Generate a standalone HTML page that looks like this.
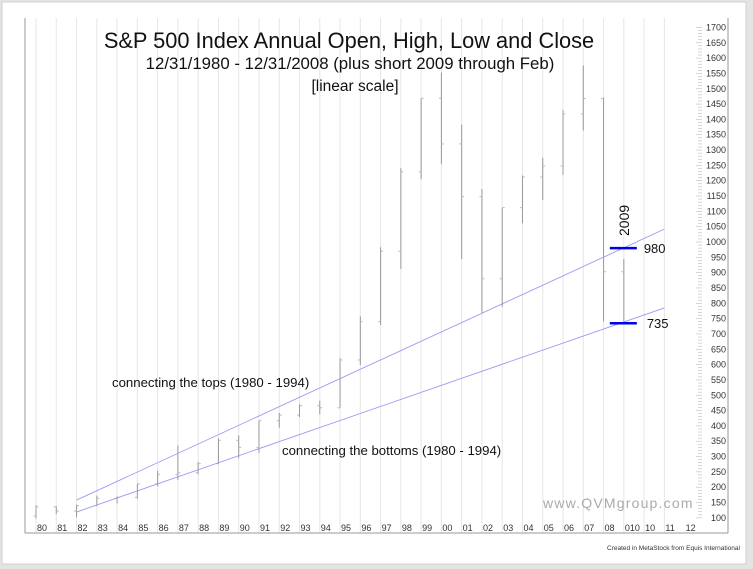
<!DOCTYPE html>
<html><head><meta charset="utf-8"><style>
html,body{margin:0;padding:0;background:#e4e4e4;}
svg{display:block;}
text{font-family:"Liberation Sans",sans-serif;}
</style></head><body>
<svg id="chart" width="753" height="569" xmlns="http://www.w3.org/2000/svg">
<rect x="2" y="2" width="744" height="562" fill="#fff" stroke="#d0d0d0"/>
<g id="grid"></g>
<g id="bars"></g>
<g id="trend"></g>
<line x1="25" y1="18" x2="25" y2="533" stroke="#999"/>
<line x1="25" y1="533" x2="728" y2="533" stroke="#999"/>
<line x1="728" y1="18" x2="728" y2="533" stroke="#999"/>
<g id="yaxis"></g>
<g id="xaxis"></g>
<text x="349" y="48" font-size="21.8" text-anchor="middle" fill="#111">S&amp;P 500 Index Annual Open, High, Low and Close</text>
<text x="350" y="69" font-size="16.8" text-anchor="middle" fill="#111">12/31/1980 - 12/31/2008 (plus short 2009 through Feb)</text>
<text x="355" y="91" font-size="15.5" text-anchor="middle" fill="#111">[linear scale]</text>
<text x="112" y="387" font-size="13.2" fill="#111">connecting the tops (1980 - 1994)</text>
<text x="282" y="455" font-size="13.2" fill="#111">connecting the bottoms (1980 - 1994)</text>
<text x="543" y="508" font-size="14" fill="#aaa" letter-spacing="1.2">www.QVMgroup.com</text>
<text x="607" y="550" font-size="6.5" fill="#333">Created in MetaStock from Equis International</text>
<g id="marks"></g>
</svg>
<script>
const years = ["80","81","82","83","84","85","86","87","88","89","90","91","92","93","94","95","96","97","98","99","00","01","02","03","04","05","06","07","08","010","10","11","12"];
const opens = [106,136,122,140,164,167,211,242,247,277,353,330,417,435,466,459,615,740,970,1229,1469,1320,1148,880,1112,1212,1248,1418,1468,903];
const highs = [141,138,143,172,170,212,254,336,283,359,369,418,442,471,482,621,757,983,1241,1469,1553,1383,1173,1112,1217,1275,1431,1576,1471,944];
const lows  = [98,112,102,138,147,163,203,224,242,275,295,312,394,429,438,459,598,729,912,1205,1254,944,768,789,1061,1137,1219,1364,741,735];
const closes= [136,122,140,164,167,211,242,247,277,353,330,417,435,466,459,615,740,970,1229,1469,1320,1148,880,1112,1212,1248,1418,1468,903,735];
const yTicks = [100,150,200,250,300,350,400,450,500,550,600,650,700,750,800,850,900,950,1000,1050,1100,1150,1200,1250,1300,1350,1400,1450,1500,1550,1600,1650,1700];
const topLine = [[2,158],[31,1042]];
const bottomLine = [[2,119],[31,785]];
const levels = [980,735];

const NS="http://www.w3.org/2000/svg";
const y = v => 242 - (v-1000)*0.3065;
const x = i => 36 + 20.27*i;
function mk(tag, attrs, parent){const e=document.createElementNS(NS,tag);for(const k in attrs)e.setAttribute(k,attrs[k]);document.getElementById(parent).appendChild(e);return e;}

for(let i=0;i<=31;i++){
  const g=mk('line',{x1:x(i),y1:18,x2:x(i),y2:533,stroke:'#e6e6e6'},'grid');
  
  
}
years.forEach((lab,i)=>{
  const t=mk('text',{x:x(i)+1,y:531,'font-size':9,fill:'#333'},'xaxis');
  t.textContent=lab;
  
  
});
for(let v=100;v<=1700;v+=10){
  const major=v%50===0;
  const l=mk('line',{x1:major?696:698,y1:y(v),x2:702,y2:y(v),stroke:'#bbb','stroke-width':0.6},'yaxis');
  
  
}
yTicks.forEach(v=>{
  const t=mk('text',{x:726,y:y(v)+3,'font-size':9,fill:'#333','text-anchor':'end'},'yaxis');
  t.textContent=v;
  
  
});
opens.forEach((o,i)=>{
  const xi=x(i);
  const g=mk('g',{stroke:'#999','stroke-width':1},'bars');
  
  
  const v=mk('line',{x1:xi,y1:y(highs[i]),x2:xi,y2:y(lows[i])},'bars');g.appendChild(v);
  const a=mk('line',{x1:xi-2.5,y1:y(o),x2:xi,y2:y(o),stroke:'#bbb'},'bars');g.appendChild(a);
  const b=mk('line',{x1:xi,y1:y(closes[i]),x2:xi+2.5,y2:y(closes[i]),stroke:'#bbb'},'bars');g.appendChild(b);
});
[topLine,bottomLine].forEach((ln,k)=>{
  const l=mk('line',{x1:x(ln[0][0]),y1:y(ln[0][1]),x2:x(ln[1][0]),y2:y(ln[1][1]),stroke:'#9a9af0','stroke-width':0.9},'trend');
  
  
});
levels.forEach((v,k)=>{
  const l=mk('line',{x1:x(29)-14,y1:y(v),x2:x(29)+13,y2:y(v),stroke:'#0000ee','stroke-width':2.5},'marks');
  
  
  const t=mk('text',{x:x(29)+20+k*3,y:y(v)+5,'font-size':13,fill:'#111'},'marks');
  t.textContent=v;
  
  
});
const t9=mk('text',{x:0,y:0,'font-size':14,fill:'#111',transform:'translate('+(x(29)+5)+',236) rotate(-90)'},'marks');
t9.textContent='2009';


</script>
</body></html>
